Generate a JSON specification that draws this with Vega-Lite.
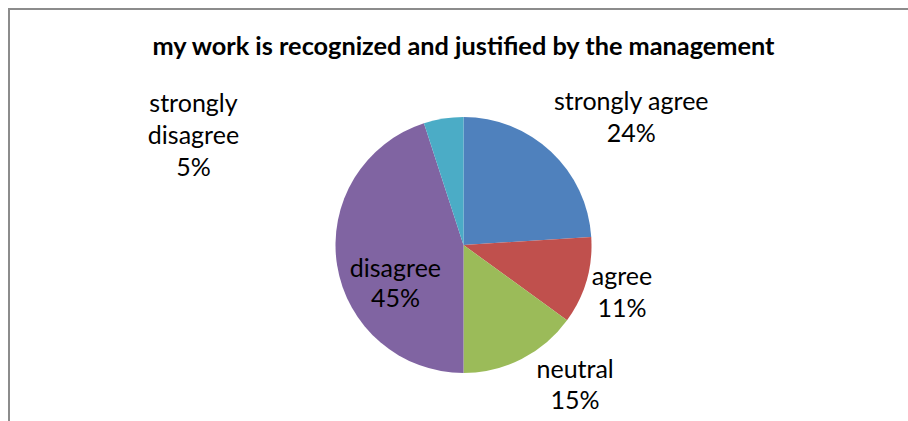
{
  "$schema": "https://vega.github.io/schema/vega-lite/v6.json",
  "width": 909,
  "height": 472,
  "autosize": {"type": "none"},
  "padding": {"left": 9, "top": 9, "right": 0, "bottom": 0},
  "background": "white",
  "view": {"stroke": "#8c8c8c", "strokeWidth": 2, "fill": null},
  "title": {
    "text": "my work is recognized and justified by the management",
    "font": "Lato",
    "fontSize": 25.3,
    "fontWeight": "bold",
    "color": "black",
    "anchor": "middle",
    "frame": "group",
    "baseline": "alphabetic",
    "offset": -71
  },
  "data": {
    "values": [
      {"rank": 1, "category": "strongly agree", "share": 0.24},
      {"rank": 2, "category": "agree", "share": 0.11},
      {"rank": 3, "category": "neutral", "share": 0.15},
      {"rank": 4, "category": "disagree", "share": 0.45},
      {"rank": 5, "category": "strongly disagree", "share": 0.05}
    ]
  },
  "encoding": {
    "theta": {"field": "share", "type": "quantitative", "stack": true},
    "order": {"field": "rank", "type": "quantitative"}
  },
  "layer": [
    {
      "mark": {"type": "arc", "outerRadius": 128},
      "encoding": {
        "color": {
          "field": "category",
          "type": "nominal",
          "scale": {
            "domain": ["strongly agree", "agree", "neutral", "disagree", "strongly disagree"],
            "range": ["#4F81BD", "#C0504D", "#9BBB59", "#8064A2", "#4BACC6"]
          },
          "legend": null
        }
      }
    },
    {
      "mark": {"type": "text", "radius": 175, "dx": 48, "dy": -15, "font": "Lato", "fontSize": 25, "align": "center", "baseline": "middle", "color": "black"},
      "encoding": {"text": {"condition": {"test": "datum.category === 'strongly agree'", "field": "category", "type": "nominal"}, "value": ""}}
    },
    {
      "mark": {"type": "text", "radius": 175, "dx": 48, "dy": 17, "font": "Lato", "fontSize": 25, "align": "center", "baseline": "middle", "color": "black"},
      "encoding": {"text": {"condition": {"test": "datum.category === 'strongly agree'", "field": "share", "type": "quantitative", "format": ".0%"}, "value": ""}}
    },
    {
      "mark": {"type": "text", "radius": 165, "dx": 0, "dy": -14, "font": "Lato", "fontSize": 25, "align": "center", "baseline": "middle", "color": "black"},
      "encoding": {"text": {"condition": {"test": "datum.category === 'agree'", "field": "category", "type": "nominal"}, "value": ""}}
    },
    {
      "mark": {"type": "text", "radius": 165, "dx": 0, "dy": 18, "font": "Lato", "fontSize": 25, "align": "center", "baseline": "middle", "color": "black"},
      "encoding": {"text": {"condition": {"test": "datum.category === 'agree'", "field": "share", "type": "quantitative", "format": ".0%"}, "value": ""}}
    },
    {
      "mark": {"type": "text", "radius": 160, "dx": 39, "dy": -18, "font": "Lato", "fontSize": 25, "align": "center", "baseline": "middle", "color": "black"},
      "encoding": {"text": {"condition": {"test": "datum.category === 'neutral'", "field": "category", "type": "nominal"}, "value": ""}}
    },
    {
      "mark": {"type": "text", "radius": 160, "dx": 39, "dy": 13, "font": "Lato", "fontSize": 25, "align": "center", "baseline": "middle", "color": "black"},
      "encoding": {"text": {"condition": {"test": "datum.category === 'neutral'", "field": "share", "type": "quantitative", "format": ".0%"}, "value": ""}}
    },
    {
      "mark": {"type": "text", "radius": 75, "dx": 6, "dy": 12, "font": "Lato", "fontSize": 25, "align": "center", "baseline": "middle", "color": "black"},
      "encoding": {"text": {"condition": {"test": "datum.category === 'disagree'", "field": "category", "type": "nominal"}, "value": ""}}
    },
    {
      "mark": {"type": "text", "radius": 75, "dx": 6, "dy": 42, "font": "Lato", "fontSize": 25, "align": "center", "baseline": "middle", "color": "black"},
      "encoding": {"text": {"condition": {"test": "datum.category === 'disagree'", "field": "share", "type": "quantitative", "format": ".0%"}, "value": ""}}
    },
    {
      "mark": {"type": "text", "radius": 128, "dx": -250, "dy": -27, "font": "Lato", "fontSize": 25, "align": "center", "baseline": "top", "lineBreak": " ", "lineHeight": 32, "color": "black"},
      "encoding": {"text": {"condition": {"test": "datum.category === 'strongly disagree'", "field": "category", "type": "nominal"}, "value": ""}}
    },
    {
      "mark": {"type": "text", "radius": 128, "dx": -250, "dy": 49, "font": "Lato", "fontSize": 25, "align": "center", "baseline": "middle", "color": "black"},
      "encoding": {"text": {"condition": {"test": "datum.category === 'strongly disagree'", "field": "share", "type": "quantitative", "format": ".0%"}, "value": ""}}
    }
  ]
}
